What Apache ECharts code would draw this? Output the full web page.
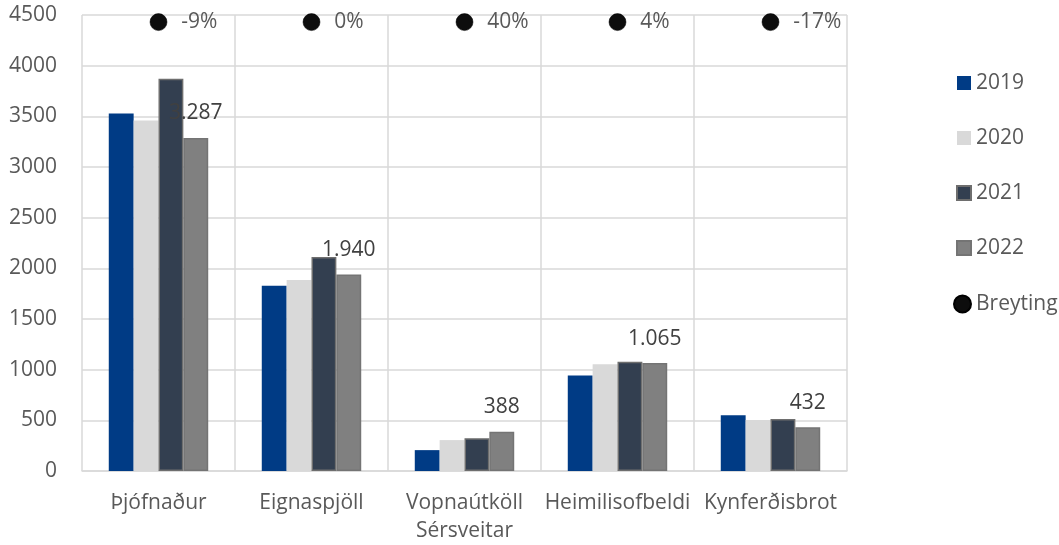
<!DOCTYPE html>
<html>
<head>
<meta charset="utf-8">
<script src="https://cdn.jsdelivr.net/npm/echarts@6/dist/echarts.min.js"></script>
<style>html,body{margin:0;padding:0;background:#fff;}#c{width:1059px;height:545px;}</style>
</head>
<body>
<div id="c"></div>
<script>
const categories = ['Þjófnaður', 'Eignaspjöll', 'Vopnaútköll\nSérsveitar', 'Heimilisofbeldi', 'Kynferðisbrot'];
const v2019 = [3527, 1827, 206, 943, 550];
const v2020 = [3459, 1886, 305, 1054, 504];
const v2021 = [3871, 2112, 324, 1078, 514];
const v2022 = [3287, 1940, 388, 1065, 432];
const breyting = ['-9%', '0%', '40%', '4%', '-17%'];
const breytingLevel = [4430, 4430, 4430, 4430, 4430];
const yTicks = { min: 0, max: 4500, interval: 500 };

const FONT = '"Open Sans", "Noto Sans", sans-serif';
const fmt = v => String(v).replace(/\B(?=(\d{3})+(?!\d))/g, '.');

const chart = echarts.init(document.getElementById('c'), null, { renderer: 'canvas' });
chart.setOption({
  animation: false,
  backgroundColor: '#fff',
  textStyle: { fontFamily: FONT },
  grid: { left: 82, right: 212, top: 15, bottom: 72, containLabel: false },
  legend: [{
    orient: 'vertical', left: 956, top: 72, padding: 0,
    itemWidth: 14, itemHeight: 14, itemGap: 33,
    icon: 'rect',
    data: ['2019', '2020', '2021', '2022'],
    textStyle: { color: '#595959', fontSize: 21, lineHeight: 22, fontFamily: FONT }
  }, {
    orient: 'vertical', left: 953, top: 293, padding: 0,
    itemWidth: 17, itemHeight: 17,
    icon: 'circle',
    data: ['Breyting'],
    textStyle: { color: '#595959', fontSize: 21, lineHeight: 22, fontFamily: FONT }
  }],
  xAxis: {
    type: 'category',
    data: categories,
    boundaryGap: true,
    axisLine: { show: true, lineStyle: { color: '#d9d9d9', width: 1.5 } },
    axisTick: { show: false },
    splitLine: { show: true, lineStyle: { color: '#d9d9d9', width: 1.5 } },
    axisLabel: { color: '#595959', fontSize: 21, margin: 18, lineHeight: 28, fontFamily: FONT, interval: 0 }
  },
  yAxis: {
    type: 'value',
    min: yTicks.min, max: yTicks.max, interval: yTicks.interval,
    axisLine: { show: false },
    axisTick: { show: false },
    splitLine: { show: true, lineStyle: { color: '#d9d9d9', width: 1.5 } },
    axisLabel: { color: '#595959', fontSize: 21, margin: 25, fontFamily: FONT, formatter: v => String(v) }
  },
  series: [
    { name: '2019', type: 'bar', data: v2019, barGap: '0%', barCategoryGap: '35%',
      itemStyle: { color: '#003b85' } },
    { name: '2020', type: 'bar', data: v2020,
      itemStyle: { color: '#d9d9d9' } },
    { name: '2021', type: 'bar', data: v2021,
      itemStyle: { color: '#333f50', borderColor: '#6e6e6e', borderWidth: 1.5 } },
    { name: '2022', type: 'bar', data: v2022,
      itemStyle: { color: '#808080', borderColor: '#747474', borderWidth: 1.5 },
      label: { show: true, position: 'top', distance: 14, color: '#404040', fontSize: 21, fontFamily: FONT,
        formatter: p => fmt(p.value) } },
    { name: 'Breyting', type: 'scatter', data: breytingLevel, symbol: 'circle', symbolSize: 17,
      itemStyle: { color: '#0d0d0d', borderColor: '#000', borderWidth: 0.5, opacity: 1 },
      label: { show: true, position: 'right', distance: 14, color: '#595959', fontSize: 21, fontFamily: FONT,
        formatter: p => breyting[p.dataIndex] },
      z: 5 }
  ]
});
</script>
</body>
</html>
